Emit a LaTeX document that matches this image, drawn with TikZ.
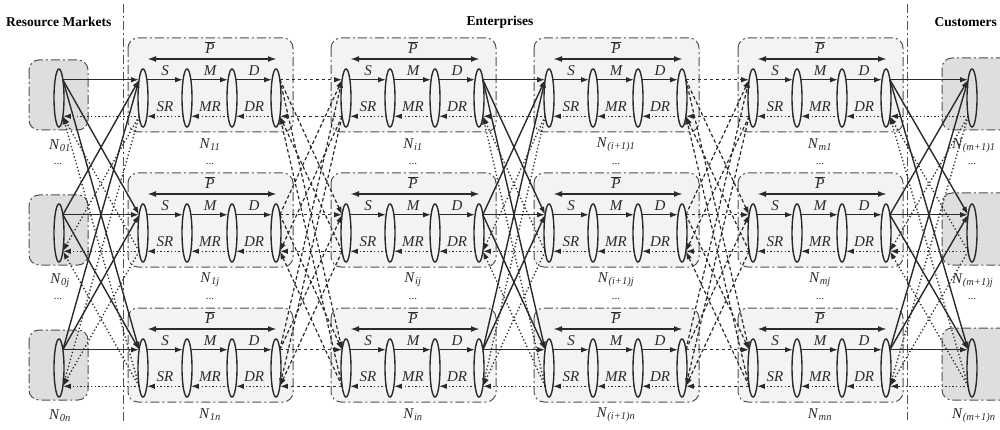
\documentclass[tikz,border=0pt]{standalone}
\usepackage{fontspec}
\setmainfont{Liberation Serif}
\usetikzlibrary{arrows.meta,shapes.geometric}
\definecolor{lc}{HTML}{2A2A2A}
\definecolor{bc}{HTML}{505050}
\definecolor{rg}{HTML}{DEDEDE}
\definecolor{eg}{HTML}{F3F3F3}
\newcommand\NN[1]{\textit{N}\textsubscript{\itshape #1}}
\begin{document}
\begin{tikzpicture}[x=1pt,y=-1pt,
  ell/.style={ellipse,draw=lc,line width=1.4pt,minimum width=10pt,minimum height=58pt,inner sep=0pt,outer sep=0pt},
  ebox/.style={draw=bc,fill=eg,rounded corners=10pt,line width=1pt,dash pattern=on 9pt off 3pt on 2pt off 3pt},
  rbox/.style={ebox,fill=rg},
  tip/.style={-{Latex[length=8pt,width=5.5pt]}},
  fwd/.style={draw=lc,line width=1.4pt,tip},
  bwd/.style={draw=lc,line width=1.3pt,dash pattern=on 1.3pt off 2.3pt,tip},
  dfwd/.style={draw=lc,line width=1.2pt,dash pattern=on 3.5pt off 2.5pt,tip},
  parr/.style={draw=lc,line width=1.8pt,{Latex[length=9pt,width=6pt]}-{Latex[length=9pt,width=6pt]}},
  div/.style={draw=bc,line width=1pt,dash pattern=on 9pt off 3pt on 2pt off 3pt},
  title/.style={font=\bfseries\fontsize{13.5}{15}\selectfont,inner sep=0pt},
  it/.style={font=\itshape\fontsize{15}{17}\selectfont,text=lc,inner sep=0pt},
  lab/.style={font=\fontsize{15}{17}\selectfont,text=lc,inner sep=0pt},
  dots/.style={font=\fontsize{11}{12}\selectfont,text=lc,inner sep=0pt}
]
\useasboundingbox (0,0) rectangle (1000,430);
% titles
\node[title,anchor=west] (tR) at (6,22) {Resource Markets};
\node[title] (tE) at (500,22) {Enterprises};
\node[title,anchor=east] (tC) at (997,22) {Customers};
% dividers
\draw[div] (123,4) -- (123,424);
\draw[div] (907,4) -- (907,420);
% resource markets and customers
\foreach \r/\cy/\s in {1/98/1,2/233/j,3/368/n}{
  \draw[rbox] (29,\cy-38) rectangle (88,\cy+32);
  \node[ell] (R-\r) at (59,\cy) {};
  \node[lab] (RL-\r) at (60,\cy+48) {\NN{0\s}};
  \draw[rbox] (942,\cy-40) rectangle (1015,\cy+32);
  \node[ell] (U-\r) at (972,\cy) {};
  \node[lab,anchor=west] (UL-\r) at (952,\cy+48) {\NN{(m+1)\s}};
  \ifnum\r<3
    \node[dots] (RD-\r) at (58,\cy+66) {...};
    \node[dots] (UD-\r) at (972,\cy+66) {...};
  \fi
}
% enterprises
\foreach \c/\ox/\p in {1/0/1,2/203/i,3/406/{(i+1)},4/610/m}{
  \foreach \r/\cy/\s in {1/98/1,2/233/j,3/368/n}{
    \draw[ebox] (\ox+128,\cy-60) rectangle (\ox+293,\cy+34);
    \foreach \k/\ex in {1/143,2/187,3/232,4/276}
      \node[ell] (E-\c-\r-\k) at (\ox+\ex,\cy) {};
    \foreach \k/\kk in {1/2,2/3,3/4}{
      \draw[fwd] (E-\c-\r-\k.78) -- (E-\c-\r-\kk.102);
      \draw[bwd] (E-\c-\r-\kk.258) -- (E-\c-\r-\k.282);
    }
    \foreach \k/\lx/\t/\tt in {1/165/S/SR,2/210/M/MR,3/254/D/DR}{
      \node[it] (ES-\c-\r-\k) at (\ox+\lx,\cy-27) {\t};
      \node[it] (ER-\c-\r-\k) at (\ox+\lx,\cy+9) {\tt};
    }
    \draw[parr] ([xshift=4pt,yshift=10pt]E-\c-\r-1.north) -- ([xshift=1pt,yshift=10pt]E-\c-\r-4.north);
    \node[lab] (P-\c-\r) at (\ox+210,\cy-50) {$\overline{\mbox{\itshape P}}$};
    \node[lab] (EL-\c-\r) at (\ox+210,\cy+47) {\NN{\p\s}};
    \ifnum\r<3
      \node[dots] (ED-\c-\r) at (\ox+210,\cy+66) {...};
    \fi
  }
}
% connectors between stages
\foreach \a in {1,2,3}{
  \foreach \b in {1,2,3}{
    \draw[fwd] (R-\a.78) -- (E-1-\b-1.102);
    \draw[bwd] (E-1-\b-1.258) -- (R-\a.282);
    \draw[dfwd] (E-1-\a-4.78) -- (E-2-\b-1.102);
    \draw[dfwd] (E-2-\b-1.258) -- (E-1-\a-4.282);
    \draw[fwd] (E-2-\a-4.78) -- (E-3-\b-1.102);
    \draw[bwd] (E-3-\b-1.258) -- (E-2-\a-4.282);
    \draw[dfwd] (E-3-\a-4.78) -- (E-4-\b-1.102);
    \draw[dfwd] (E-4-\b-1.258) -- (E-3-\a-4.282);
    \draw[fwd] (E-4-\a-4.78) -- (U-\b.102);
    \draw[bwd] (U-\b.258) -- (E-4-\a-4.282);
  }
}
\end{tikzpicture}
\end{document}
